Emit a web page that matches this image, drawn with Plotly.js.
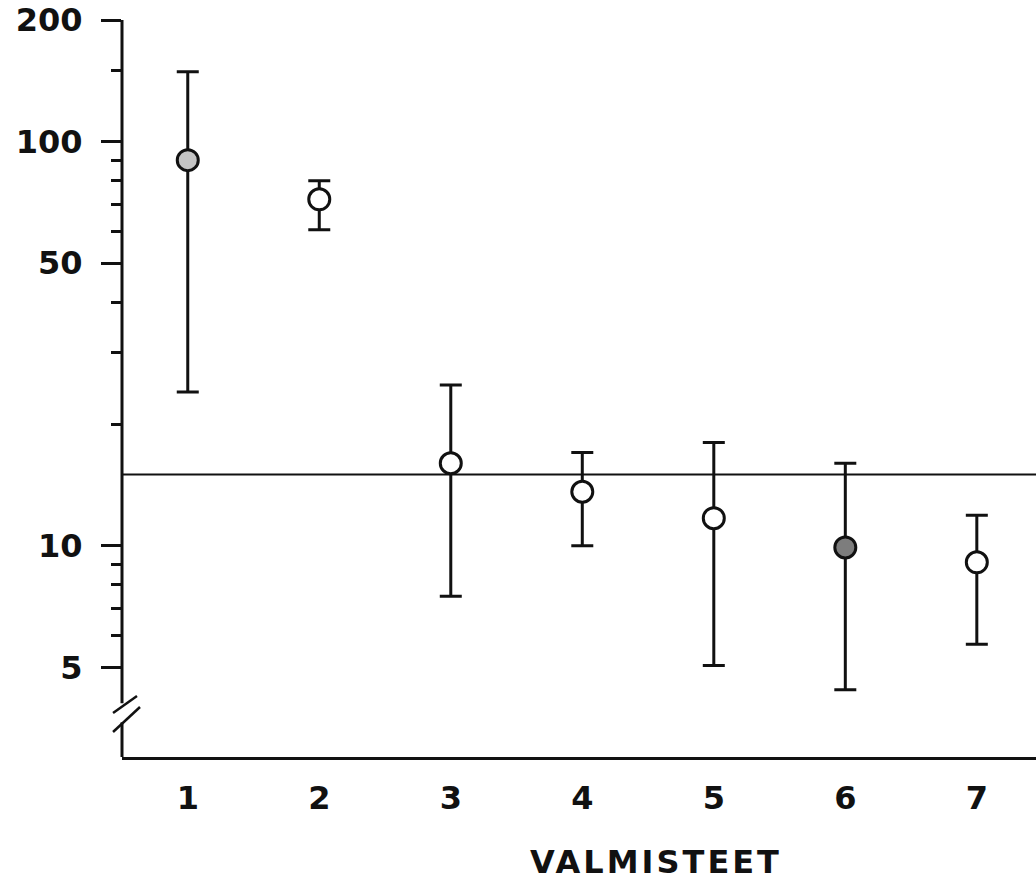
<!DOCTYPE html>
<html>
<head>
<meta charset="utf-8">
<script src="https://cdn.plot.ly/plotly-3.0.1.min.js"></script>
<style>
  html, body { margin: 0; padding: 0; background: #fff; }
  #chart { width: 1036px; height: 884px; }
  .annotation-text { letter-spacing: 3px; }
</style>
</head>
<body>
<div id="chart"></div>
<script>
// ---- data ----
const categories = [1, 2, 3, 4, 5, 6, 7];
const categoryLabels = ['1', '2', '3', '4', '5', '6', '7'];
const center = [90, 72, 16, 13.6, 11.7, 9.9, 9.1];
const upper  = [149, 80, 25, 17, 18, 16, 11.9];
const lower  = [24, 60.5, 7.5, 10, 5.05, 4.4, 5.7];
const shaded = [true, false, false, false, false, true, false];
const referenceLevel = 15;
const yMajorTicks = [5, 10, 50, 100, 200];
const yMajorLabels = ['5', '10', '50', '100', '200'];
const yMinorTicks = [6, 7, 8, 9, 20, 30, 40, 60, 70, 80, 90, 150];
const xTitle = 'VALMISTEET';

const errPlus = center.map((c, i) => upper[i] - c);
const errMinus = center.map((c, i) => c - lower[i]);
const fills = shaded.map((s, i) => s ? (i === 0 ? '#c4c4c4' : '#7d7d7d') : '#ffffff');

const font = { family: 'DejaVu Sans', size: 32, color: '#111', weight: 'bold' };

const trace = {
  type: 'scatter',
  mode: 'markers',
  x: categories,
  y: center,
  marker: { size: 21, color: fills, line: { color: '#111', width: 3 } },
  error_y: {
    type: 'data', symmetric: false,
    array: errPlus, arrayminus: errMinus,
    color: '#111', thickness: 3, width: 11
  },
  cliponaxis: false,
  hoverinfo: 'x+y'
};

const layout = {
  width: 1036, height: 884,
  margin: { l: 122, r: 0, t: 20, b: 127 },
  paper_bgcolor: '#fff', plot_bgcolor: '#fff',
  showlegend: false,
  font: font,
  xaxis: {
    range: [0.5, 7.45],
    tickmode: 'array', tickvals: categories, ticktext: categoryLabels,
    ticks: '', showgrid: false, zeroline: false,
    showline: true, linecolor: '#111', linewidth: 3,
    tickfont: font, ticklabelstandoff: 11
  },
  yaxis: {
    type: 'log',
    range: [Math.log10(3), Math.log10(200)],
    tickmode: 'array', tickvals: yMajorTicks, ticktext: yMajorLabels,
    ticks: 'outside', ticklen: 20, tickwidth: 3, tickcolor: '#111',
    minor: { tickmode: 'array', tickvals: yMinorTicks, ticks: 'outside', ticklen: 10, tickwidth: 3, tickcolor: '#111', showgrid: false },
    showgrid: false, zeroline: false, showline: false,
    tickfont: font, ticklabelstandoff: 12
  },
  shapes: [
    // reference level line
    { type: 'line', xref: 'paper', x0: 0, x1: 1, yref: 'y', y0: referenceLevel, y1: referenceLevel,
      line: { color: '#111', width: 2 }, layer: 'below' },
    // y axis line with a break near the bottom
    { type: 'line', xref: 'paper', x0: 0, x1: 0, yref: 'paper', y0: 1, y1: 0.073,
      line: { color: '#111', width: 3 } },
    { type: 'line', xref: 'paper', x0: 0, x1: 0, yref: 'paper', y0: 0.047, y1: 0,
      line: { color: '#111', width: 3 } },
    { type: 'line', xref: 'paper', x0: -0.0098, x1: 0.0164, yref: 'paper', y0: 0.0597, y1: 0.0828,
      line: { color: '#111', width: 2.5 } },
    { type: 'line', xref: 'paper', x0: -0.0098, x1: 0.0197, yref: 'paper', y0: 0.0339, y1: 0.0678,
      line: { color: '#111', width: 2.5 } }
  ],
  annotations: [
    { text: xTitle, xref: 'paper', yref: 'paper', x: 0.584, y: -0.1425,
      xanchor: 'center', yanchor: 'middle', showarrow: false, font: font }
  ]
};

Plotly.newPlot('chart', [trace], layout, { staticPlot: true, displayModeBar: false });
</script>
</body>
</html>
